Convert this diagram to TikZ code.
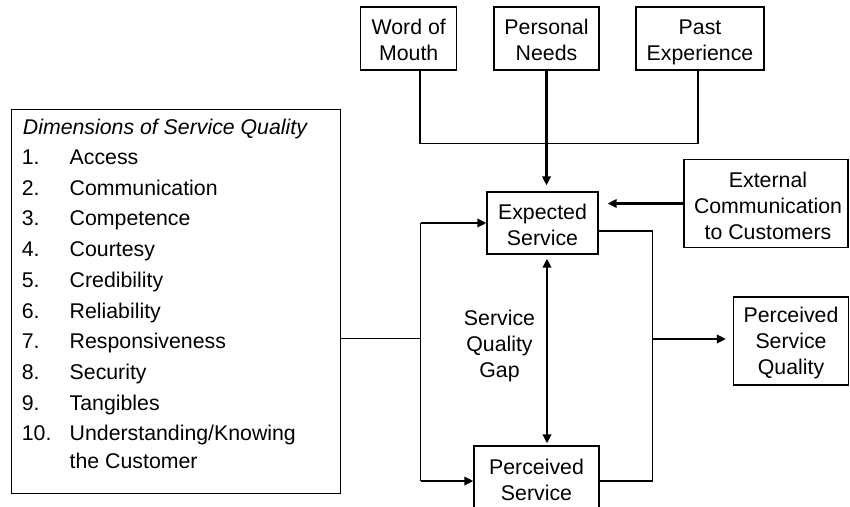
\documentclass[tikz,border=0pt]{standalone}
\usepackage{fontspec}
\setmainfont{Liberation Sans}
\usetikzlibrary{arrows.meta}
\begin{document}
\begin{tikzpicture}[x=1pt,y=-1pt,
  every node/.style={font=\fontsize{21.3}{25.8}\selectfont},
  box/.style={draw, line width=1.3pt, inner sep=0pt},
  txt/.style={align=center, anchor=base, inner sep=0pt},
  thinline/.style={line width=1.2pt},
  arr/.style={line width=2.1pt, -{Triangle[length=9pt,width=8.5pt]}},
  dblarr/.style={line width=2.1pt, {Triangle[length=9pt,width=8.5pt]}-{Triangle[length=9pt,width=8.5pt]}},
  listtext/.style={anchor=base west, inner sep=0pt}
]
\clip (0,0) rectangle (850,506);
\fill[white] (0,0) rectangle (850,506);

% top boxes (text nodes anchored at the baseline of their last line)
\node[box, minimum width=96pt, minimum height=63pt] (wom) at (408.7,38.5) {};
\node[txt] (womt) at (408.7,60) {Word of\\Mouth};
\node[box, minimum width=105pt, minimum height=63pt] (pn) at (546.5,38.5) {};
\node[txt] (pnt) at (546.5,60) {Personal\\Needs};
\node[box, minimum width=128pt, minimum height=63pt] (pe) at (700,38.5) {};
\node[txt] (pet) at (700,60) {Past\\Experience};

% middle boxes
\node[box, minimum width=111pt, minimum height=62pt] (es) at (542.5,223) {};
\node[txt] (est) at (542.5,245) {Expected\\Service};
\node[box, minimum width=164pt, minimum height=88pt] (ext) at (766,203.5) {};
\node[txt] (extt) at (768,239) {External\\Communication\\to Customers};
\node[box, minimum width=115pt, minimum height=88pt] (psq) at (791,341) {};
\node[txt] (psqt) at (791,374) {Perceived\\Service\\Quality};
\node[box, minimum width=125pt, minimum height=80pt] (ps) at (536.5,486) {};
\node[txt] (pst) at (536.5,500) {Perceived\\Service};
\node[txt] (gap) at (499.5,377) {Service\\Quality\\Gap};

% dimensions box
\node[draw, line width=1.3pt, minimum width=329pt, minimum height=384pt, anchor=north west, inner sep=0pt] (dims) at (11,109) {};
\node[listtext] (title) at (22.7,134) {\itshape Dimensions of Service Quality};
\foreach \n/\t [count=\i] in {1./Access, 2./Communication, 3./Competence, 4./Courtesy, 5./Credibility, 6./Reliability, 7./Responsiveness, 8./Security, 9./Tangibles, 10./Understanding\slash Knowing}{
  \node[listtext] (num\i) at (21.7,{164.5+30.7*(\i-1)}) {\n};
  \node[listtext] (item\i) at (69.5,{164.5+30.7*(\i-1)}) {\t};
}
\node[listtext] (item10b) at (69.5,468) {the Customer};

% connectors
\coordinate (gx) at (547,0);
\coordinate (j) at (420.5,338.5);
\coordinate (jt) at (420.5,223);
\coordinate (jb) at (420.5,481);
\coordinate (rt) at (652.5,231);
\coordinate (rm) at (652.5,339);
\coordinate (rb) at (652.5,481);

\draw[thinline] ([xshift=11.3pt]wom.south) -- ++(0,73) -| ([xshift=-2pt]pe.south);
\draw[arr, shorten >=6pt] (pn.south) -- (pn.south |- es.north);
\draw[arr, shorten >=9pt] (ext.west) -- (ext.west -| es.east);

\draw[thinline] (dims.east |- j) -- (j);
\draw[thinline] (jt) -- (jb);
\draw[arr] (jt) -- (jt -| es.west);
\draw[arr] (jb) -- (jb -| ps.west);

\draw[thinline] (es.east |- rt) -- (rt) -- (rb) -- (rb -| ps.east);
\draw[arr, shorten >=7pt] (rm) -- (rm -| psq.west);

\draw[dblarr, shorten <=4pt, shorten >=2pt] (es.south -| gx) -- (ps.north -| gx);
\end{tikzpicture}
\end{document}
